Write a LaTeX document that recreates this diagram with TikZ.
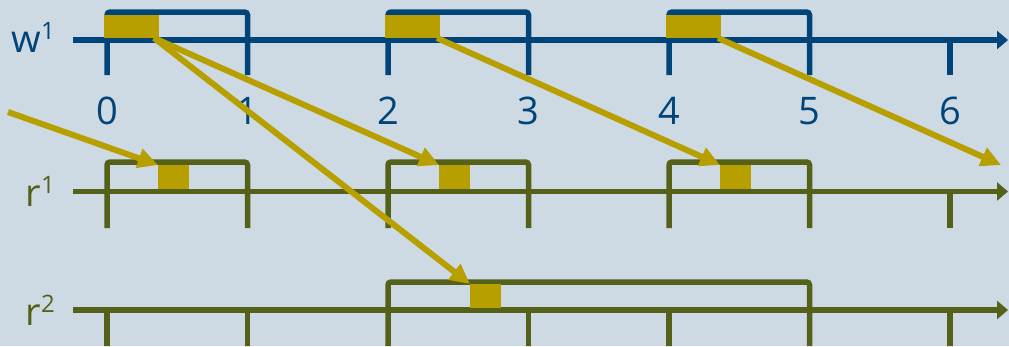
\documentclass[tikz,border=0pt]{standalone}
\usepackage{fontspec}
\setmainfont{Open Sans}
\usetikzlibrary{arrows.meta}

\definecolor{bgpanel}{HTML}{CDDAE4}
\definecolor{wblue}{HTML}{004479}
\definecolor{rgreen}{HTML}{556019}
\definecolor{slotgold}{HTML}{B89F00}

% superscript index on a row label
\newcommand\rowidx[1]{\raisebox{13pt}{\fontsize{24}{24}\selectfont #1}}

\begin{document}
\begin{tikzpicture}[x=1pt,y=-1pt,
  wpen/.style={draw=wblue,line width=5.5pt},
  rpen/.style={draw=rgreen,line width=5.5pt},
  timeaxis/.style={-{Triangle[length=11pt,width=18pt]}},
  slot/.style={fill=slotgold,draw=none,sharp corners,inner sep=0pt,outer sep=0pt,anchor=north west},
  wslot/.style={slot,minimum width=55pt,minimum height=23pt},
  rslot/.style={slot,minimum width=31pt,minimum height=24pt},
  flow/.style={draw=slotgold,line width=6pt,sharp corners,-{Triangle[length=20pt,width=19pt]}},
  ticklbl/.style={text=wblue,font=\fontsize{38}{38}\selectfont,anchor=base,inner sep=0pt},
  rowlbl/.style={font=\fontsize{38}{38}\selectfont,anchor=base east,inner sep=0pt},
  rounded corners=3pt
]
% canvas
\fill[bgpanel,sharp corners] (0,0) rectangle (1009,346);
\path[use as bounding box] (0,0) rectangle (1009,346);
\clip (0,0) rectangle (1009,346);

% ---- write timeline w1 ----
\draw[wpen,timeaxis,sharp corners] (73,40) -- (1008,40);
\foreach \k in {0,2,4}{
  \pgfmathsetmacro\xa{107+140.5*\k}
  \pgfmathsetmacro\xb{107+140.5*(\k+1)}
  \draw[wpen] (\xa,75) -- (\xa,12) -- (\xb,12) -- (\xb,75);
}
\draw[wpen,sharp corners] (950,40) -- (950,75);
\foreach \k in {0,...,6}{
  \node[ticklbl] (t\k) at ({107+140.5*\k},124) {\k};
}
\node[rowlbl,text=wblue] (lw) at (55,52) {w\rowidx{1}};

% ---- read timeline r1 ----
\draw[rpen,timeaxis,sharp corners] (73,191.5) -- (1008,191.5);
\foreach \k in {0,2,4}{
  \pgfmathsetmacro\xa{107+140.5*\k}
  \pgfmathsetmacro\xb{107+140.5*(\k+1)}
  \draw[rpen] (\xa,228) -- (\xa,162) -- (\xb,162) -- (\xb,228);
}
\draw[rpen,sharp corners] (950,191.5) -- (950,228);
\node[rowlbl,text=rgreen] (lr1) at (55,206) {r\rowidx{1}};

% ---- read timeline r2 ----
\draw[rpen,timeaxis,sharp corners] (73,310) -- (1008,310);
\draw[rpen] (388,350) -- (388,282) -- (809.5,282) -- (809.5,350);
\foreach \x in {107,247.5,528.5,669,950}{
  \draw[rpen,sharp corners] (\x,310) -- (\x,350);
}
\node[rowlbl,text=rgreen] (lr2) at (55,325) {r\rowidx{2}};

% ---- occupied slots ----
\node[wslot] (w0) at (104,15) {};
\node[wslot] (w1) at (385,15) {};
\node[wslot] (w2) at (666,15) {};
\node[rslot] (ra) at (158,165) {};
\node[rslot] (rb) at (439,165) {};
\node[rslot] (rc) at (720,165) {};
\node[rslot] (rd) at (470,284) {};

% ---- data flow ----
\coordinate (inflow) at (8,112);
\coordinate (outflow) at (1001,165);
\draw[flow] (inflow) -- (ra.north west);
\draw[flow] ([xshift=-5pt]w0.south east) -- (rb.north west);
\draw[flow] ([xshift=-5pt]w0.south east) -- (rd.north west);
\draw[flow] ([xshift=-3pt]w1.south east) -- (rc.north west);
\draw[flow] ([xshift=-3pt]w2.south east) -- (outflow);
\end{tikzpicture}
\end{document}
